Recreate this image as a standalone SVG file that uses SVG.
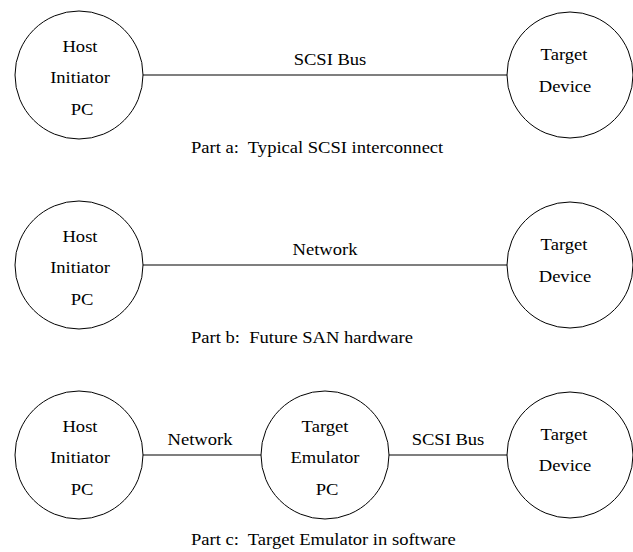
<svg xmlns="http://www.w3.org/2000/svg" width="633" height="552" viewBox="0 0 633 552" font-family="'Liberation Serif', 'Times New Roman', serif">
<style>
text{font-family:'Liberation Serif','Times New Roman',serif;font-size:16px;fill:#000}
.c{text-anchor:middle}
.s{text-anchor:start}
circle{fill:#fff;stroke:#000;stroke-width:1}
line{stroke:#000;stroke-width:1.2}
</style>
<rect width="633" height="552" fill="#fff"/>
<g id="connectors">
<line x1="143" y1="75" x2="507" y2="75"/>
<line x1="143" y1="265" x2="507" y2="265"/>
<line x1="143" y1="455" x2="261" y2="455"/>
<line x1="389" y1="455" x2="507" y2="455"/>
</g>
<g id="labels">
<text class="c" transform="translate(330,65) scale(1.16,1)">SCSI Bus</text>
<text class="c" transform="translate(325,255) scale(1.16,1)">Network</text>
<text class="c" transform="translate(200,445) scale(1.16,1)">Network</text>
<text class="c" transform="translate(448,445) scale(1.16,1)">SCSI Bus</text>
<text class="s" transform="translate(191,153) scale(1.16,1)">Part a:&#160; Typical SCSI interconnect</text>
<text class="s" transform="translate(191,343) scale(1.16,1)">Part b:&#160; Future SAN hardware</text>
<text class="s" transform="translate(191,545) scale(1.16,1)">Part c:&#160; Target Emulator in software</text>
</g>
<g id="host-a">
<circle cx="79" cy="75" r="64"/>
<text class="c" transform="translate(80,52) scale(1.16,1)">Host</text>
<text class="c" transform="translate(80,83) scale(1.16,1)">Initiator</text>
<text class="c" transform="translate(82,115) scale(1.16,1)">PC</text>
</g>
<g id="target-a">
<circle cx="570" cy="75" r="63"/>
<text class="c" transform="translate(564,60) scale(1.16,1)">Target</text>
<text class="c" transform="translate(565,92) scale(1.16,1)">Device</text>
</g>
<g id="host-b">
<circle cx="79" cy="265" r="64"/>
<text class="c" transform="translate(80,242) scale(1.16,1)">Host</text>
<text class="c" transform="translate(80,273) scale(1.16,1)">Initiator</text>
<text class="c" transform="translate(82,305) scale(1.16,1)">PC</text>
</g>
<g id="target-b">
<circle cx="570" cy="265" r="63"/>
<text class="c" transform="translate(564,250) scale(1.16,1)">Target</text>
<text class="c" transform="translate(565,282) scale(1.16,1)">Device</text>
</g>
<g id="host-c">
<circle cx="79" cy="455" r="64"/>
<text class="c" transform="translate(80,432) scale(1.16,1)">Host</text>
<text class="c" transform="translate(80,463) scale(1.16,1)">Initiator</text>
<text class="c" transform="translate(82,495) scale(1.16,1)">PC</text>
</g>
<g id="emulator-c">
<circle cx="325" cy="455" r="64"/>
<text class="c" transform="translate(325,432) scale(1.16,1)">Target</text>
<text class="c" transform="translate(325,463) scale(1.16,1)">Emulator</text>
<text class="c" transform="translate(327,495) scale(1.16,1)">PC</text>
</g>
<g id="target-c">
<circle cx="570" cy="455" r="63"/>
<text class="c" transform="translate(564,440) scale(1.16,1)">Target</text>
<text class="c" transform="translate(565,471) scale(1.16,1)">Device</text>
</g>
</svg>
